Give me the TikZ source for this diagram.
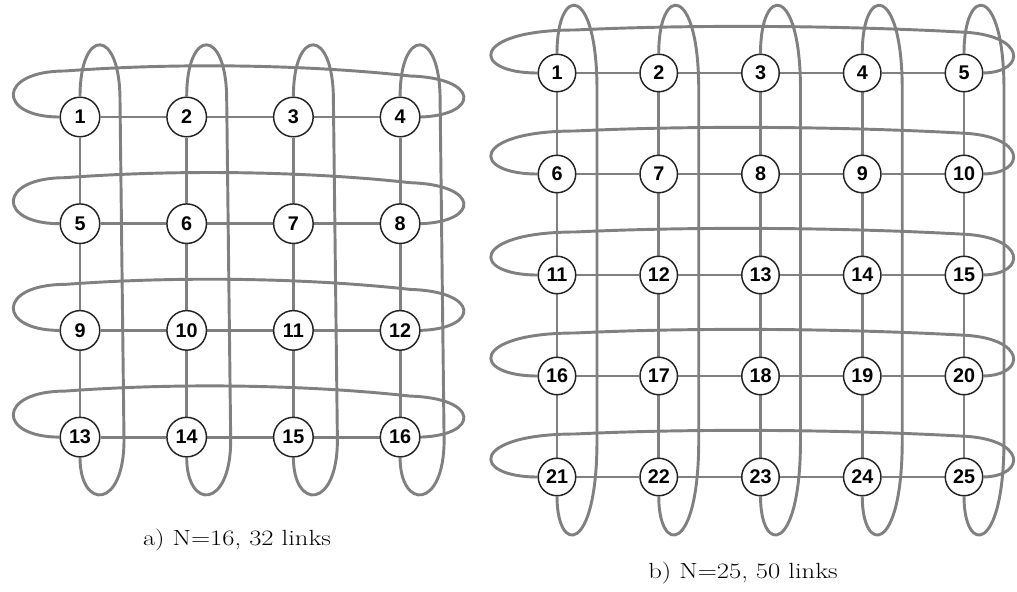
\documentclass[tikz,border=0pt]{standalone}
\usepackage{fontspec}
\usepackage{graphicx}
\newfontfamily\numfont{Liberation Sans}
\usetikzlibrary{backgrounds}
\definecolor{cLink}{RGB}{128,128,128}
\definecolor{cRing}{RGB}{35,35,35}
\newcommand{\captext}[1]{\scalebox{1.21}[1]{#1}}
\tikzset{
  numnode/.style={circle,draw=cRing,line width=1pt,fill=white,
                  inner sep=0pt,minimum size=0.95cm,
                  font=\numfont\bfseries\fontsize{13.5}{13.5}\selectfont},
  numnodeb/.style={numnode,minimum size=0.9cm},
  linkline/.style={draw=cLink,line width=2pt},
  captnode/.style={font=\fontsize{15}{17}\selectfont}
}
\begin{document}
\begin{tikzpicture}[x=0.024cm,y=-0.024cm]
  \useasboundingbox (0,0) rectangle (1017,592);

  % a) 4x4 torus
  \foreach \r in {0,...,3} \foreach \c in {0,...,3} {
    \pgfmathtruncatemacro\n{4*\r+\c+1}
    \node[numnode] (a\n) at ({80+106.7*\c},{117+106.7*\r}) {\n};
  }

  % b) 5x5 torus
  \foreach \r in {0,...,4} \foreach \c in {0,...,4} {
    \pgfmathtruncatemacro\n{5*\r+\c+1}
    \node[numnodeb] (b\n) at ({557+101.75*\c},{73+101*\r}) {\n};
  }

  % Captions
  \node[captnode] (capa) at (237,540) {\captext{a) N=16, 32 links}};
  \node[captnode] (capb) at (743,573) {\captext{b) N=25, 50 links}};

  \begin{pgfonlayer}{background}
    % grid links a
    \foreach \r in {0,...,3} \foreach \c in {0,...,2} {
      \pgfmathtruncatemacro\p{4*\r+\c+1}
      \pgfmathtruncatemacro\q{\p+1}
      \draw[linkline] (a\p) -- (a\q);
    }
    \foreach \r in {0,...,2} \foreach \c in {0,...,3} {
      \pgfmathtruncatemacro\p{4*\r+\c+1}
      \pgfmathtruncatemacro\q{\p+4}
      \draw[linkline] (a\p) -- (a\q);
    }
    % wrap-around links a
    \foreach \r in {0,...,3} {
      \pgfmathtruncatemacro\p{4*\r+1}
      \pgfmathtruncatemacro\q{4*\r+4}
      \pgfmathsetmacro\y{117+106.7*\r}
      \draw[linkline] (a\p.west) .. controls (-3,\y) and (-3,\y-46) .. (65,\y-46)
          .. controls (200,\y-56) and (330,\y-50) .. (410,\y-41)
          .. controls (480,\y-39) and (480,\y-2) .. (a\q.east);
    }
    \foreach \c in {0,...,3} {
      \pgfmathtruncatemacro\p{\c+1}
      \pgfmathtruncatemacro\q{\c+13}
      \pgfmathsetmacro\x{80+106.7*\c}
      \draw[linkline] (a\p.north) .. controls (\x,27) and (\x+40,27) .. (\x+40,100)
          -- (\x+44,440) .. controls (\x+44,510) and (\x,510) .. (a\q.south);
    }

    % grid links b
    \foreach \r in {0,...,4} \foreach \c in {0,...,3} {
      \pgfmathtruncatemacro\p{5*\r+\c+1}
      \pgfmathtruncatemacro\q{\p+1}
      \draw[linkline] (b\p) -- (b\q);
    }
    \foreach \r in {0,...,3} \foreach \c in {0,...,4} {
      \pgfmathtruncatemacro\p{5*\r+\c+1}
      \pgfmathtruncatemacro\q{\p+5}
      \draw[linkline] (b\p) -- (b\q);
    }
    % wrap-around links b
    \foreach \r in {0,...,4} {
      \pgfmathtruncatemacro\p{5*\r+1}
      \pgfmathtruncatemacro\q{5*\r+5}
      \pgfmathsetmacro\y{73+101*\r}
      \draw[linkline] (b\p.west) .. controls (470,\y) and (470,\y-43) .. (575,\y-43)
          .. controls (700,\y-49) and (850,\y-47) .. (960,\y-41)
          .. controls (1027,\y-39) and (1027,\y-1) .. (b\q.east);
    }
    \foreach \c in {0,...,4} {
      \pgfmathtruncatemacro\p{\c+1}
      \pgfmathtruncatemacro\q{\c+21}
      \pgfmathsetmacro\x{557+101.75*\c}
      \draw[linkline] (b\p.north) .. controls (\x,-16) and (\x+40,-16) .. (\x+40,90)
          -- (\x+40,440) .. controls (\x+40,555) and (\x,555) .. (b\q.south);
    }
  \end{pgfonlayer}
\end{tikzpicture}
\end{document}
